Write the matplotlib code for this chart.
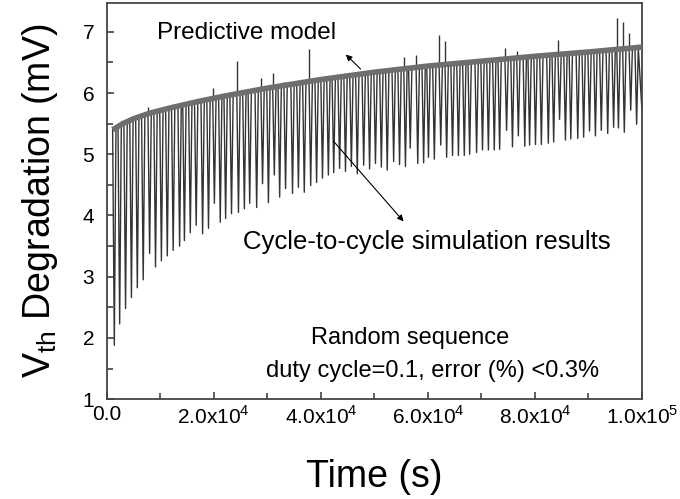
import numpy as np
import matplotlib
matplotlib.use('Agg')
import matplotlib.pyplot as plt

plt.rcParams['font.family'] = ['Liberation Sans', 'DejaVu Sans']
plt.rcParams['mathtext.fontset'] = 'custom'
plt.rcParams['mathtext.rm'] = 'Liberation Sans'

# predictive model curve (s, mV)
model_t = [1100, 3000, 5000, 8000, 12000, 17000, 22000, 30000, 40000, 50000,
           60000, 70000, 80000, 90000, 100000]
model_v = [5.40, 5.50, 5.58, 5.67, 5.76, 5.86, 5.95, 6.08, 6.22, 6.34,
           6.44, 6.52, 6.60, 6.67, 6.75]

# start of each recovery dip of the cycle-to-cycle simulation (s)
dip_t = [1100, 2100, 3200, 4300, 5400, 6500, 7700, 8800, 9900, 11000,
         12100, 13300, 14200, 15300, 16400, 17600, 18700, 19800, 20900, 21900,
         23000, 24300, 25400, 26400, 27700, 28800, 29900, 31000, 32000, 33100,
         34400, 35500, 36600, 37800, 38900, 40000, 41100, 42100, 43200, 44300,
         45400, 46500, 47700, 48800, 49900, 51000, 52100, 53300, 54400, 55500,
         56400, 57800, 58900, 59800, 60900, 62100, 63200, 64300, 65400, 66500,
         67500, 68800, 69900, 71000, 72100, 73100, 74400, 75500, 76600, 77800,
         78700, 79800, 80900, 82200, 83200, 84300, 85400, 86400, 87700, 88800,
         89900, 91000, 92100, 93300, 94400, 95300, 96400, 97600, 98700]
# lowest value reached in each dip (mV)
dip_v = [1.88, 2.23, 2.48, 2.66, 2.82, 2.95, 3.38, 3.16, 3.26, 3.34,
         3.43, 3.50, 3.59, 3.72, 3.84, 3.70, 3.79, 4.20, 3.89, 3.95,
         4.03, 4.05, 4.11, 4.20, 4.13, 4.52, 4.21, 4.66, 4.30, 4.44,
         4.36, 4.46, 4.38, 4.49, 4.54, 4.61, 4.66, 4.70, 4.77, 4.72,
         4.80, 4.68, 4.82, 4.76, 4.85, 4.79, 4.74, 4.88, 4.83, 4.80,
         5.10, 4.85, 4.86, 4.95, 4.92, 5.15, 4.95, 4.98, 4.98, 4.98,
         5.00, 5.03, 5.07, 5.07, 5.07, 5.08, 5.39, 5.12, 5.30, 5.13,
         5.15, 5.16, 5.16, 5.18, 5.20, 5.57, 5.23, 5.25, 5.26, 5.28,
         5.38, 5.30, 5.39, 5.34, 5.44, 5.43, 5.36, 5.72, 5.49]

# overshoots above the model line
spike_t = [7700, 19800, 24300, 28800, 31000, 33100, 35500, 37800, 55500, 57800,
           62100, 63200, 74400, 76600, 84300, 95300, 96400, 97600]
spike_v = [5.77, 6.08, 6.52, 6.25, 6.33, 6.18, 6.18, 6.72, 6.59, 6.62,
           6.95, 6.85, 6.74, 6.69, 6.87, 7.23, 7.16, 6.98]

xticks = [0, 20000, 40000, 60000, 80000, 100000]
xticklabels = ['0.0', r'2.0x10$^{4}$', r'4.0x10$^{4}$', r'6.0x10$^{4}$',
               r'8.0x10$^{4}$', r'1.0x10$^{5}$']
yticks = [1, 2, 3, 4, 5, 6, 7]

fig = plt.figure(figsize=(6.8, 4.99), dpi=100)
ax = fig.add_axes([0.157, 0.2, 0.787, 0.794])

# sawtooth: base -> dip -> base for every cycle
w = 310
base = np.interp(dip_t, model_t, model_v)
st, sv = [], []
for t, b, d in zip(dip_t, base, dip_v):
    st += [t, t + w, t + 2 * w]
    sv += [b, d, b]
st.append(100000)
sv.append(5.72)
ax.plot(st, sv, color='#333333', lw=1.0, zorder=2)
ax.vlines(spike_t, np.interp(spike_t, model_t, model_v), spike_v,
          color='#333333', lw=1.0, zorder=2)

ax.plot(model_t, model_v, color='#6e6e6e', lw=4.0, zorder=3,
        solid_capstyle='butt')

ax.set_xlim(0, 100000)
ax.set_ylim(1, 7.47)
ax.set_xticks(xticks)
ax.set_xticklabels(xticklabels)
ax.set_xticks(np.arange(10000, 100000, 20000), minor=True)
ax.set_yticks(yticks)
ax.set_yticks(np.arange(1.5, 7.5, 1.0), minor=True)
ax.tick_params(which='both', direction='in', top=False, right=False,
               labelsize=15, color='#333333', width=1.1)
ax.tick_params(which='major', length=5)
ax.tick_params(axis='y', pad=9)
ax.tick_params(axis='x', pad=4)
ax.tick_params(which='minor', length=4)
for s in ax.spines.values():
    s.set_color('#444444')
    s.set_linewidth(1.3)

ax.set_xlabel('Time (s)', fontsize=27, labelpad=23)
ax.set_ylabel(r'V$_{\rm th}$ Degradation (mV)', fontsize=27, labelpad=16)

ax.text(9300, 6.98, 'Predictive model', fontsize=17.5, va='center', ha='left')
ax.annotate('', xy=(44300, 6.66), xytext=(47800, 6.36),
            arrowprops=dict(arrowstyle='-|>', color='black', lw=0.8,
                            mutation_scale=9))
ax.text(25400, 3.57, 'Cycle-to-cycle simulation results', fontsize=18.5,
        va='center', ha='left')
ax.annotate('', xy=(55800, 3.87), xytext=(42000, 5.25),
            arrowprops=dict(arrowstyle='-|>', color='black', lw=0.8,
                            mutation_scale=9))
ax.text(56600, 2.0, 'Random sequence', fontsize=17, va='center', ha='center')
ax.text(60800, 1.46, 'duty cycle=0.1, error (%) <0.3%', fontsize=17,
        va='center', ha='center')

plt.savefig('out.png', dpi=100)
plt.close()
